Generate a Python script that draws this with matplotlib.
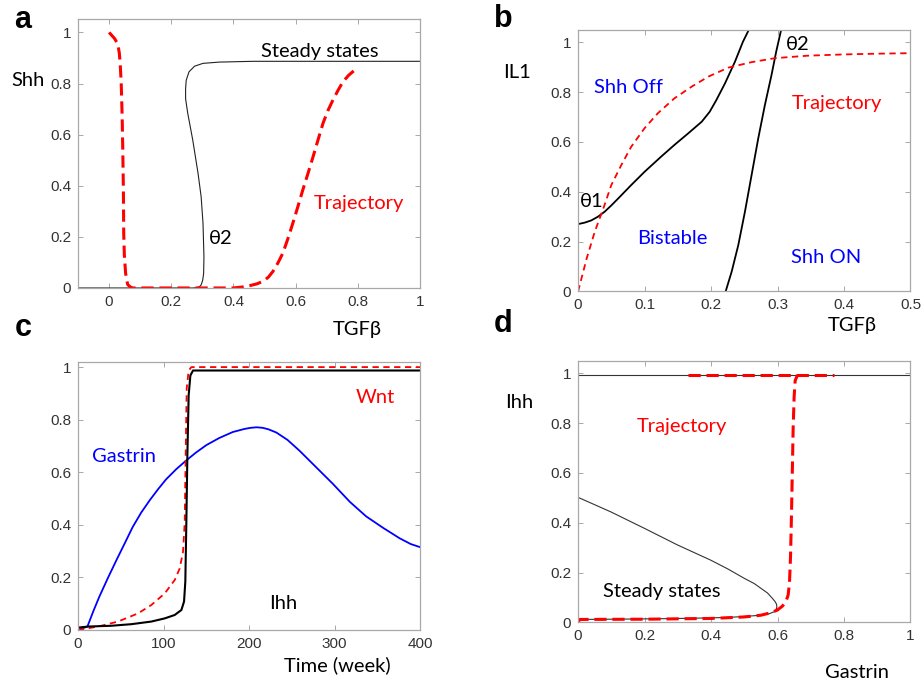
import matplotlib
matplotlib.use("Agg")
import matplotlib.pyplot as plt

plt.rcParams['font.family'] = ['Liberation Sans', 'DejaVu Sans']
LABEL_FONT = ['Lato', 'Open Sans', 'DejaVu Sans']

# ---- panel a: Shh vs TGFb ----
a_ss_x = [-0.1, 0.0, 0.1, 0.2, 0.27, 0.279, 0.29, 0.296, 0.301, 0.304, 0.305, 0.302, 0.296, 0.286,
          0.269, 0.253, 0.246, 0.246, 0.248, 0.257, 0.275, 0.302, 0.355, 0.463, 0.6, 0.8, 1.0]
a_ss_y = [0.0, 0.0, 0.0, 0.0, 0.0, 0.001, 0.004, 0.012, 0.03, 0.057, 0.122, 0.253, 0.357, 0.449,
          0.579, 0.683, 0.74, 0.78, 0.813, 0.846, 0.868, 0.879, 0.884, 0.887, 0.887, 0.887, 0.887]
a_tr_x = [0.0, 0.017, 0.028, 0.033, 0.036, 0.039, 0.042, 0.044, 0.046, 0.047, 0.049, 0.053, 0.057,
          0.06, 0.068, 0.076, 0.2, 0.4, 0.43, 0.452, 0.475, 0.495, 0.512, 0.527, 0.543, 0.559,
          0.575, 0.591, 0.607, 0.623, 0.64, 0.656, 0.672, 0.688, 0.704, 0.72, 0.736, 0.752, 0.77, 0.79]
a_tr_y = [1.0, 0.977, 0.955, 0.918, 0.87, 0.801, 0.67, 0.54, 0.38, 0.215, 0.13, 0.059, 0.028,
          0.013, 0.004, 0.0, 0.0, 0.0, 0.004, 0.009, 0.016, 0.026, 0.042, 0.065, 0.098, 0.137,
          0.193, 0.254, 0.318, 0.384, 0.45, 0.514, 0.58, 0.645, 0.695, 0.736, 0.773, 0.807, 0.832, 0.853]
a_xticks = [0, 0.2, 0.4, 0.6, 0.8, 1]
a_xticklabels = ['0', '0.2', '0.4', '0.6', '0.8', '1']

# ---- panel b: IL1 vs TGFb phase diagram ----
b_th1_x = [0.0, 0.01, 0.02, 0.03, 0.04, 0.05, 0.06, 0.08, 0.1, 0.125, 0.145, 0.166, 0.186, 0.198,
           0.208, 0.221, 0.236, 0.248, 0.258]
b_th1_y = [0.27, 0.276, 0.285, 0.3, 0.32, 0.345, 0.372, 0.427, 0.48, 0.541, 0.588, 0.635, 0.681,
           0.721, 0.768, 0.835, 0.922, 1.002, 1.056]
b_th2_x = [0.222, 0.231, 0.241, 0.251, 0.261, 0.271, 0.281, 0.291, 0.298, 0.306]
b_th2_y = [0.0, 0.079, 0.186, 0.32, 0.467, 0.614, 0.748, 0.869, 0.962, 1.056]
b_tr_x = [0.0, 0.013, 0.025, 0.038, 0.05, 0.065, 0.08, 0.1, 0.12, 0.145, 0.171, 0.196, 0.226,
          0.261, 0.296, 0.346, 0.4, 0.45, 0.5]
b_tr_y = [0.0, 0.133, 0.239, 0.333, 0.427, 0.507, 0.581, 0.655, 0.715, 0.775, 0.822, 0.862,
          0.898, 0.92, 0.936, 0.946, 0.951, 0.954, 0.956]
b_xticks = [0, 0.1, 0.2, 0.3, 0.4, 0.5]
b_xticklabels = ['0', '0.1', '0.2', '0.3', '0.4', '0.5']

# ---- panel c: time courses ----
c_gas_t = [0, 11, 18, 25, 35, 45, 55, 64, 74, 84, 94, 103, 115, 127, 138, 150, 165, 181, 195,
           202, 209, 216, 223, 232, 245, 259, 272, 285, 298, 318, 337, 357, 376, 389, 400]
c_gas_y = [0.0, 0.013, 0.072, 0.127, 0.198, 0.266, 0.332, 0.392, 0.447, 0.494, 0.537, 0.573,
           0.612, 0.646, 0.675, 0.703, 0.73, 0.753, 0.765, 0.769, 0.771, 0.769, 0.763, 0.751,
           0.723, 0.682, 0.64, 0.598, 0.556, 0.487, 0.432, 0.388, 0.349, 0.327, 0.315]
c_ihh_t = [0, 11.7, 39, 62.4, 85.8, 101.4, 113.1, 120.9, 124, 125.5, 126.7, 127.9, 129.4, 131.4,
           134.5, 200, 400]
c_ihh_y = [0.009, 0.013, 0.016, 0.022, 0.032, 0.044, 0.057, 0.076, 0.108, 0.184, 0.411, 0.665,
           0.893, 0.968, 0.987, 0.987, 0.987]
c_wnt_t = [0, 23.4, 46.8, 70.2, 85.8, 101.4, 113.1, 118.9, 122.8, 124.8, 125.9, 127.1, 129.4,
           132.6, 200, 400]
c_wnt_y = [0.0, 0.013, 0.032, 0.063, 0.095, 0.139, 0.19, 0.234, 0.297, 0.411, 0.665, 0.918,
           0.987, 1.0, 1.0, 1.0]
c_xticks = [0, 100, 200, 300, 400]

# ---- panel d: Ihh vs Gastrin ----
d_up_x = [0.0, 1.0]
d_up_y = [0.993, 0.993]
d_ss_x = [0.0, 0.098, 0.199, 0.299, 0.399, 0.45, 0.5, 0.53, 0.55, 0.57, 0.585, 0.593, 0.597,
          0.598, 0.596, 0.59, 0.575, 0.55, 0.5, 0.449, 0.35, 0.249, 0.1, 0.0]
d_ss_y = [0.502, 0.444, 0.378, 0.311, 0.25, 0.215, 0.177, 0.156, 0.137, 0.118, 0.096, 0.083,
          0.073, 0.062, 0.052, 0.043, 0.035, 0.029, 0.024, 0.02, 0.017, 0.015, 0.013, 0.012]
d_tr_x = [0.0, 0.005, 0.2, 0.4, 0.5, 0.55, 0.58, 0.6, 0.615, 0.625, 0.632, 0.636, 0.639, 0.641,
          0.643, 0.645, 0.647, 0.65, 0.653, 0.66]
d_tr_y = [0.0, 0.012, 0.013, 0.016, 0.022, 0.029, 0.039, 0.05, 0.066, 0.083, 0.11, 0.16, 0.26,
          0.371, 0.5, 0.639, 0.78, 0.906, 0.97, 0.993]
d_top_x = [0.33, 0.77]
d_top_y = [0.993, 0.993]
d_xticks = [0, 0.2, 0.4, 0.6, 0.8, 1]
d_xticklabels = ['0', '0.2', '0.4', '0.6', '0.8', '1']

yticks = [0, 0.2, 0.4, 0.6, 0.8, 1]
yticklabels = ['0', '0.2', '0.4', '0.6', '0.8', '1']

fig = plt.figure(figsize=(9.22, 6.84), dpi=100)
axa = fig.add_axes([0.0846, 0.579, 0.371, 0.393])
axb = fig.add_axes([0.627, 0.574, 0.3605, 0.3825])
axc = fig.add_axes([0.0846, 0.079, 0.371, 0.392])
axd = fig.add_axes([0.627, 0.090, 0.3605, 0.3825])


def style(ax):
    for s in ax.spines.values():
        s.set_color('#a8a8a8')
        s.set_linewidth(0.9)
    ax.tick_params(direction='in', top=True, right=True, length=3.5, width=0.7,
                   color='#a8a8a8', labelcolor='#333333', labelsize=11, pad=5)


red_dash = dict(color='#ff0000', lw=2.2, ls=(0, (4, 1.9)))
red_thin = dict(color='#ff0000', lw=1.3, ls=(0, (3.5, 2.5)))
txt = dict(fontsize=14.5, family=LABEL_FONT, va='center')

# a
axa.plot(a_ss_x, a_ss_y, color='#222222', lw=0.8)
axa.plot(a_tr_x, a_tr_y, **red_dash)
axa.set_xlim(-0.1, 1)
axa.set_ylim(0, 1.052)
axa.set_xticks(a_xticks, a_xticklabels)
axa.set_yticks(yticks, yticklabels)
style(axa)
axa.text(0.489, 0.925, 'Steady states', color='black', **txt)
axa.text(0.321, 0.195, 'θ2', color='black', **txt)
axa.text(0.658, 0.332, 'Trajectory', color='#ff0000', **txt)

# b
axb.plot(b_th1_x, b_th1_y, color='black', lw=1.3)
axb.plot(b_th2_x, b_th2_y, color='black', lw=1.3)
axb.plot(b_tr_x, b_tr_y, **red_thin)
axb.set_xlim(0, 0.5)
axb.set_ylim(0, 1.05)
axb.set_xticks(b_xticks, b_xticklabels)
axb.set_yticks(yticks, yticklabels)
style(axb)
axb.text(0.024, 0.819, 'Shh Off', color='#0000ff', **txt)
axb.text(0.321, 0.755, 'Trajectory', color='#ff0000', **txt)
axb.text(0.003, 0.36, 'θ1', color='black', **txt)
axb.text(0.312, 0.992, 'θ2', color='black', **txt)
axb.text(0.089, 0.213, 'Bistable', color='#0000ff', **txt)
axb.text(0.321, 0.137, 'Shh ON', color='#0000ff', **txt)

# c
axc.plot(c_gas_t, c_gas_y, color='#0000ff', lw=1.3)
axc.plot(c_wnt_t, c_wnt_y, **red_thin)
axc.plot(c_ihh_t, c_ihh_y, color='black', lw=1.5)
axc.set_xlim(0, 400)
axc.set_ylim(0, 1.02)
axc.set_xticks(c_xticks)
axc.set_yticks(yticks, yticklabels)
style(axc)
axc.text(325, 0.886, 'Wnt', color='#ff0000', **txt)
axc.text(16.4, 0.658, 'Gastrin', color='#0000ff', **txt)
axc.text(223, 0.099, 'Ihh', color='black', **txt)

# d
axd.plot(d_up_x, d_up_y, color='#333333', lw=0.8)
axd.plot(d_ss_x, d_ss_y, color='#333333', lw=0.8)
axd.plot(d_tr_x, d_tr_y, **red_dash)
axd.plot(d_top_x, d_top_y, **red_dash)
axd.set_xlim(0, 1)
axd.set_ylim(0, 1.05)
axd.set_xticks(d_xticks, d_xticklabels)
axd.set_yticks(yticks, yticklabels)
style(axd)
axd.text(0.176, 0.788, 'Trajectory', color='#ff0000', **txt)
axd.text(0.076, 0.123, 'Steady states', color='black', **txt)

# axis labels placed as free text like in the original figure
lab = dict(fontsize=14.5, family=LABEL_FONT, ha='center', va='center')
fig.text(28 / 922, 1 - 81 / 684, 'Shh', **lab)
fig.text(357 / 922, 1 - 330 / 684, 'TGFβ', **lab)
fig.text(517 / 922, 1 - 73 / 684, 'IL1', **lab)
fig.text(852 / 922, 1 - 326 / 684, 'TGFβ', **lab)
fig.text(337 / 922, 1 - 665 / 684, 'Time (week)', **lab)
fig.text(519 / 922, 1 - 403 / 684, 'Ihh', **lab)
fig.text(857 / 922, 1 - 672 / 684, 'Gastrin', **lab)

# panel letters
pl = dict(fontsize=22, fontweight='bold', ha='center', va='center')
fig.text(23 / 922, 1 - 20 / 684, 'a', **pl)
fig.text(503 / 922, 1 - 19 / 684, 'b', **pl)
fig.text(23 / 922, 1 - 328 / 684, 'c', **pl)
fig.text(503 / 922, 1 - 324 / 684, 'd', **pl)

fig.savefig('out.png', dpi=100)
